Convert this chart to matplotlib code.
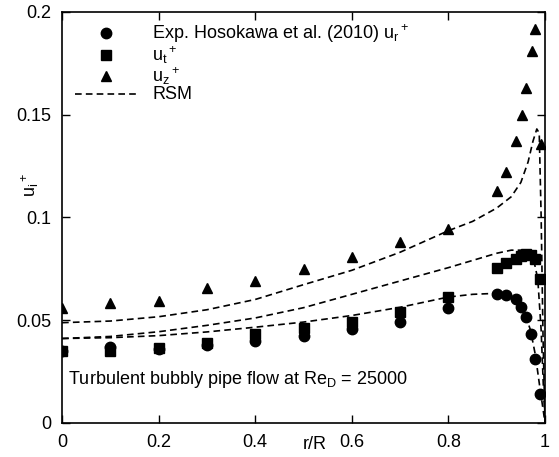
import matplotlib
matplotlib.use("Agg")
import matplotlib.pyplot as plt

plt.rcParams['font.family'] = ['Liberation Sans', 'DejaVu Sans']
plt.rcParams['mathtext.fontset'] = 'custom'
plt.rcParams['mathtext.rm'] = 'Liberation Sans'
plt.rcParams['mathtext.it'] = 'Liberation Sans'
plt.rcParams['mathtext.default'] = 'regular'

# Experimental data (Hosokawa et al. 2010)
r_exp = [0.0, 0.1, 0.2, 0.3, 0.4, 0.5, 0.6, 0.7, 0.8,
         0.9, 0.92, 0.94, 0.95, 0.96, 0.97, 0.98, 0.99]
ur_exp = [0.035, 0.037, 0.036, 0.038, 0.040, 0.042, 0.0455, 0.049, 0.0557,
          0.0625, 0.0623, 0.060, 0.0562, 0.0513, 0.043, 0.0312, 0.014]
ut_exp = [0.035, 0.035, 0.0365, 0.0387, 0.043, 0.0462, 0.0488, 0.054, 0.0614,
          0.0752, 0.0776, 0.0795, 0.0812, 0.0822, 0.0815, 0.0795, 0.0698]
uz_exp = [0.0557, 0.0581, 0.0593, 0.0657, 0.069, 0.0749, 0.0809, 0.0879, 0.0942,
          0.113, 0.122, 0.137, 0.150, 0.163, 0.181, 0.1916, 0.1356]
r_uz_exp = [0.0, 0.1, 0.2, 0.3, 0.4, 0.5, 0.6, 0.7, 0.8,
            0.9, 0.92, 0.94, 0.952, 0.96, 0.972, 0.98, 0.991]

# RSM predictions
r_rsm_z = [0.0, 0.1, 0.2, 0.3, 0.4, 0.5, 0.6, 0.7, 0.8, 0.85, 0.9, 0.93,
           0.95, 0.965, 0.975, 0.983, 0.988, 0.992, 0.996, 1.0]
rsm_z = [0.0487, 0.0495, 0.0516, 0.055, 0.060, 0.0672, 0.0742, 0.083, 0.0935,
         0.098, 0.1045, 0.110, 0.117, 0.127, 0.137, 0.143, 0.141, 0.10, 0.04, 0.0]
r_rsm_t = [0.0, 0.1, 0.2, 0.3, 0.4, 0.5, 0.6, 0.7, 0.8, 0.85, 0.9, 0.93,
           0.96, 0.975, 0.985, 0.992, 0.997, 1.0]
rsm_t = [0.041, 0.042, 0.0443, 0.0474, 0.051, 0.056, 0.0625, 0.069, 0.0755,
         0.079, 0.0825, 0.084, 0.084, 0.081, 0.07, 0.045, 0.015, 0.0]
r_rsm_r = [0.0, 0.1, 0.2, 0.3, 0.4, 0.5, 0.6, 0.7, 0.8, 0.85, 0.9, 0.93,
           0.95, 0.96, 0.97, 0.98, 0.99, 1.0]
rsm_r = [0.041, 0.0414, 0.0424, 0.0442, 0.0465, 0.049, 0.0522, 0.0562, 0.0612,
         0.0625, 0.063, 0.0615, 0.057, 0.052, 0.045, 0.033, 0.016, 0.0]

xticks = [0, 0.2, 0.4, 0.6, 0.8, 1]
xticklabels = ['0', '0.2', '0.4', '0.6', '0.8', '1']
yticks = [0, 0.05, 0.1, 0.15, 0.2]
yticklabels = ['0', '0.05', '0.1', '0.15', '0.2']

FS = 13

fig = plt.figure(figsize=(5.59, 4.57), dpi=100)
ax = fig.add_axes([0.111, 0.075, 0.864, 0.899])

ax.plot(r_exp, ur_exp, 'o', color='black', markersize=7.5,
        label='Exp. Hosokawa et al. (2010) u$_r$$^+$')
ax.plot(r_exp, ut_exp, 's', color='black', markersize=7.5, label='u$_t$$^+$')
ax.plot(r_uz_exp, uz_exp, '^', color='black', markersize=7, label='u$_z$$^+$')
ax.plot(r_rsm_z, rsm_z, '--', color='black', lw=1.2, dashes=(4, 2.5), label='RSM')
ax.plot(r_rsm_t, rsm_t, '--', color='black', lw=1.2, dashes=(4, 2.5))
ax.plot(r_rsm_r, rsm_r, '--', color='black', lw=1.2, dashes=(4, 2.5))

ax.set_xlim(0, 1)
ax.set_ylim(0, 0.2)
ax.set_xticks(xticks)
ax.set_xticklabels(xticklabels)
ax.set_yticks(yticks)
ax.set_yticklabels(yticklabels)
ax.tick_params(direction='in', top=True, right=True, length=6, width=1,
               labelsize=FS, pad=8)
for s in ax.spines.values():
    s.set_linewidth(1.2)

ax.text(-0.066, 0.579, 'u$_i$$^+$', transform=ax.transAxes, rotation=90,
        ha='center', va='center', fontsize=FS)
ax.text(0.524, -0.053, 'r/R', transform=ax.transAxes, ha='center', va='center',
        fontsize=FS)
ax.text(0.013, 0.105, 'Turbulent bubbly pipe flow at Re$_D$ = 25000',
        transform=ax.transAxes, ha='left', va='center', fontsize=FS)

ax.legend(loc='upper left', bbox_to_anchor=(0.0, 1.005), frameon=False,
          fontsize=FS, handlelength=3.5, handletextpad=0.8, labelspacing=-0.04,
          borderaxespad=0.3, handleheight=0.5)

fig.savefig('out.png', dpi=100)
